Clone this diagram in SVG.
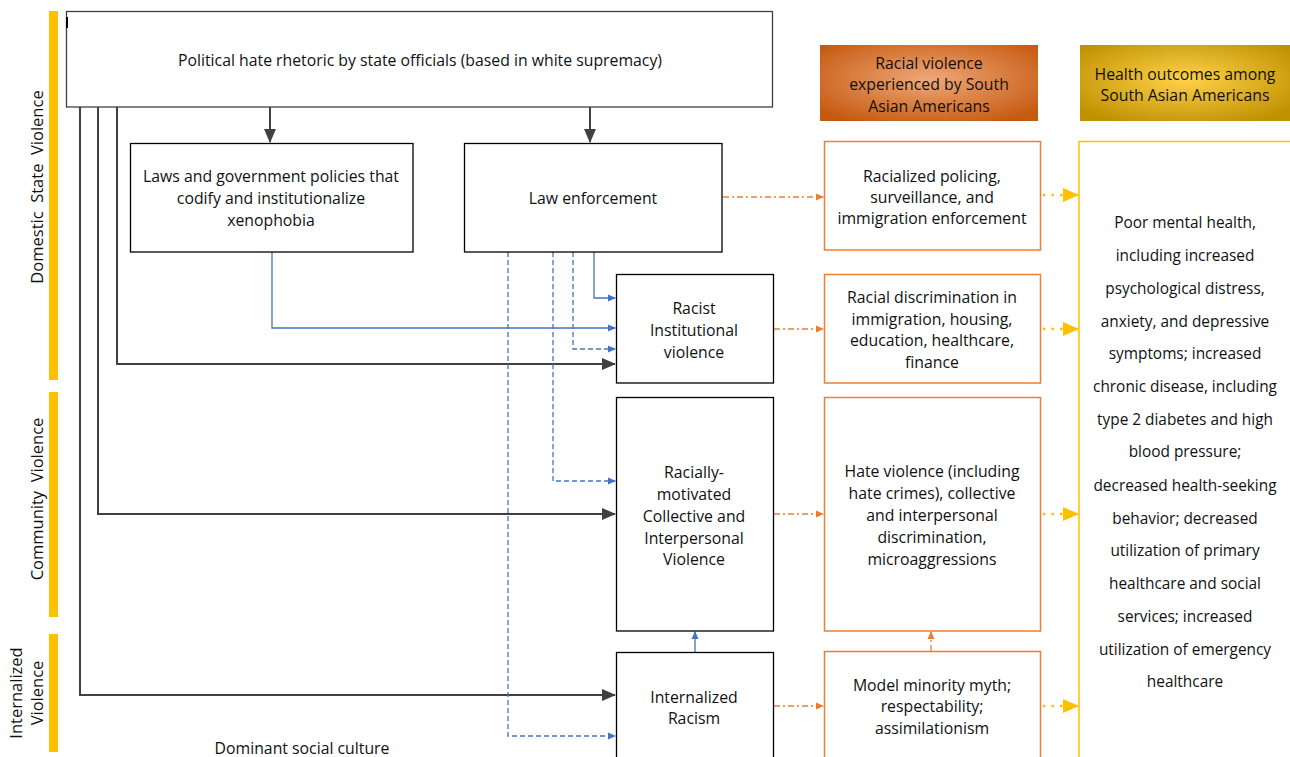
<svg xmlns="http://www.w3.org/2000/svg" width="1290" height="757" viewBox="0 0 1290 757">
<defs>
<style>
text{font-family:"Open Sans","Liberation Sans",sans-serif;font-size:15.8px;fill:#111;text-anchor:middle}
.hd{font-size:15.8px}
.ho{font-size:15.4px}
.sd{font-size:16.5px}
.bx{fill:#fff;stroke:#000;stroke-width:1.3}
.top{fill:#fff;stroke:#404040;stroke-width:1.3}
.ob{fill:#fff;stroke:#ED7D31;stroke-width:1.5}
.yb{fill:#fff;stroke:#FFC000;stroke-width:1.5}
.bar{fill:#FFC000}
.dk{fill:none;stroke:#404040;stroke-width:2}
.bl{fill:none;stroke:#4472C4;stroke-width:1.3}
.bld{fill:none;stroke:#4472C4;stroke-width:1.3;stroke-dasharray:5 3}
.or{fill:none;stroke:#ED7D31;stroke-width:1.3;stroke-dasharray:6 3 2 3}
.yl{fill:none;stroke:#FFC000;stroke-width:2.5;stroke-dasharray:2.5 6}
</style>
<marker id="aDk" markerUnits="userSpaceOnUse" markerWidth="14" markerHeight="12" refX="13" refY="6" orient="auto"><path d="M0,0 L14,6 L0,12 Z" fill="#404040"/></marker>
<marker id="aBl" markerUnits="userSpaceOnUse" markerWidth="8" markerHeight="8" refX="7" refY="4" orient="auto"><path d="M0,0.5 L8,4 L0,7.5 Z" fill="#4472C4"/></marker>
<marker id="aOr" markerUnits="userSpaceOnUse" markerWidth="8" markerHeight="8" refX="7" refY="4" orient="auto"><path d="M0,0.5 L8,4 L0,7.5 Z" fill="#ED7D31"/></marker>
<marker id="aYl" markerUnits="userSpaceOnUse" markerWidth="16" markerHeight="14" refX="15" refY="7" orient="auto"><path d="M0,0 L16,7 L0,14 Z" fill="#FFC000"/></marker>
<radialGradient id="gOr" cx="50%" cy="45%" r="65%"><stop offset="0" stop-color="#F0A878"/><stop offset="1" stop-color="#C55A11"/></radialGradient>
<radialGradient id="gGd" cx="50%" cy="45%" r="65%"><stop offset="0" stop-color="#FFD24A"/><stop offset="1" stop-color="#BF9000"/></radialGradient>
</defs>

<g id="side-labels">
<rect class="bar" x="49" y="11" width="9" height="369"/>
<rect class="bar" x="49" y="392" width="9" height="225"/>
<rect class="bar" x="49" y="634" width="9" height="118"/>
<text class="sd" transform="translate(43,187) rotate(-90)" xml:space="preserve">Domestic  State  Violence</text>
<text class="sd" transform="translate(43,499) rotate(-90)" xml:space="preserve">Community  Violence</text>
<text class="sd" transform="translate(22,693) rotate(-90)">Internalized</text>
<text class="sd" transform="translate(43,693) rotate(-90)">Violence</text>
</g>

<g id="connectors">
<path class="dk" d="M270,107 V142" marker-end="url(#aDk)"/>
<path class="dk" d="M590,107 V142" marker-end="url(#aDk)"/>
<path class="dk" d="M117,107 V364 H615" marker-end="url(#aDk)"/>
<path class="dk" d="M98,107 V514 H615" marker-end="url(#aDk)"/>
<path class="dk" d="M80,107 V695 H615" marker-end="url(#aDk)"/>
<path class="bl" d="M272,252 V328 H615" marker-end="url(#aBl)"/>
<path class="bl" d="M594,252 V298 H615" marker-end="url(#aBl)"/>
<path class="bld" d="M573,252 V349 H615" marker-end="url(#aBl)"/>
<path class="bld" d="M553,252 V481 H615" marker-end="url(#aBl)"/>
<path class="bld" d="M508,252 V736 H615" marker-end="url(#aBl)"/>
<path class="bl" d="M695,652 V632" marker-end="url(#aBl)" stroke-width="1.8"/>
<path class="or" d="M723,197 H823" marker-end="url(#aOr)"/>
<path class="or" d="M774,329 H823" marker-end="url(#aOr)"/>
<path class="or" d="M774,514 H823" marker-end="url(#aOr)"/>
<path class="or" d="M774,706 H823" marker-end="url(#aOr)"/>
<path class="or" d="M931,651 V632" marker-end="url(#aOr)"/>
<path class="yl" d="M1043,195 H1078" marker-end="url(#aYl)"/>
<path class="yl" d="M1043,329 H1078" marker-end="url(#aYl)"/>
<path class="yl" d="M1043,514 H1078" marker-end="url(#aYl)"/>
<path class="yl" d="M1043,706 H1078" marker-end="url(#aYl)"/>
</g>

<g id="top-box">
<rect class="top" x="66.5" y="11.5" width="706" height="95.5"/>
<rect x="66" y="17" width="2" height="11" fill="#000"/>
<text x="420" y="66">Political hate rhetoric by state officials (based in white supremacy)</text>
</g>

<g id="laws">
<rect class="bx" x="130.5" y="143.5" width="282.5" height="108.5"/>
<text x="271" y="182">Laws and government policies that</text>
<text x="271" y="204">codify and institutionalize</text>
<text x="271" y="226">xenophobia</text>
</g>

<g id="law-enforcement">
<rect class="bx" x="464.5" y="143.5" width="257.5" height="108.5"/>
<text x="593" y="204">Law enforcement</text>
</g>

<g id="racist-institutional">
<rect class="bx" x="616.5" y="274.5" width="157" height="108.5"/>
<text x="694" y="314">Racist</text>
<text x="694" y="336">Institutional</text>
<text x="694" y="358">violence</text>
</g>

<g id="collective">
<rect class="bx" x="616.5" y="397.5" width="157" height="233.5"/>
<text x="694" y="478">Racially-</text>
<text x="694" y="500">motivated</text>
<text x="694" y="522">Collective and</text>
<text x="694" y="544">Interpersonal</text>
<text x="694" y="565">Violence</text>
</g>

<g id="internalized-racism">
<rect class="bx" x="616.5" y="652.5" width="157" height="110"/>
<text x="694" y="703">Internalized</text>
<text x="694" y="724">Racism</text>
</g>

<g id="header-violence">
<rect x="820" y="45" width="218" height="76" fill="url(#gOr)"/>
<text class="hd" x="929" y="69">Racial violence</text>
<text class="hd" x="929" y="90">experienced by South</text>
<text class="hd" x="929" y="112">Asian Americans</text>
</g>

<g id="header-health">
<rect x="1080" y="45" width="210" height="76" fill="url(#gGd)"/>
<text class="hd" x="1185" y="80">Health outcomes among</text>
<text class="hd" x="1185" y="101">South Asian Americans</text>
</g>

<g id="racialized-policing">
<rect class="ob" x="824.5" y="141.5" width="216" height="108.5"/>
<text x="932" y="182">Racialized policing,</text>
<text x="932" y="203">surveillance, and</text>
<text x="932" y="224">immigration enforcement</text>
</g>

<g id="racial-discrimination">
<rect class="ob" x="824.5" y="274.5" width="216" height="108.5"/>
<text x="932" y="303">Racial discrimination in</text>
<text x="932" y="325">immigration, housing,</text>
<text x="932" y="346">education, healthcare,</text>
<text x="932" y="368">finance</text>
</g>

<g id="hate-violence">
<rect class="ob" x="824.5" y="397.5" width="216" height="233.5"/>
<text x="932" y="477">Hate violence (including</text>
<text x="932" y="499">hate crimes), collective</text>
<text x="932" y="521">and interpersonal</text>
<text x="932" y="543">discrimination,</text>
<text x="932" y="565">microaggressions</text>
</g>

<g id="model-minority">
<rect class="ob" x="824.5" y="651.5" width="216" height="110"/>
<text x="932" y="691">Model minority myth;</text>
<text x="932" y="712">respectability;</text>
<text x="932" y="734">assimilationism</text>
</g>

<g id="health-outcomes">
<rect class="yb" x="1079" y="141.5" width="215" height="625"/>
<text class="ho" x="1185" y="228">Poor mental health,</text>
<text class="ho" x="1185" y="261">including increased</text>
<text class="ho" x="1185" y="294">psychological distress,</text>
<text class="ho" x="1185" y="327">anxiety, and depressive</text>
<text class="ho" x="1185" y="359">symptoms; increased</text>
<text class="ho" x="1185" y="392">chronic disease, including</text>
<text class="ho" x="1185" y="425">type 2 diabetes and high</text>
<text class="ho" x="1185" y="457">blood pressure;</text>
<text class="ho" x="1185" y="491">decreased health-seeking</text>
<text class="ho" x="1185" y="524">behavior; decreased</text>
<text class="ho" x="1185" y="556">utilization of primary</text>
<text class="ho" x="1185" y="589">healthcare and social</text>
<text class="ho" x="1185" y="622">services; increased</text>
<text class="ho" x="1185" y="655">utilization of emergency</text>
<text class="ho" x="1185" y="687">healthcare</text>
</g>

<g id="dominant-culture">
<text x="302" y="754">Dominant social culture</text>
</g>
</svg>
